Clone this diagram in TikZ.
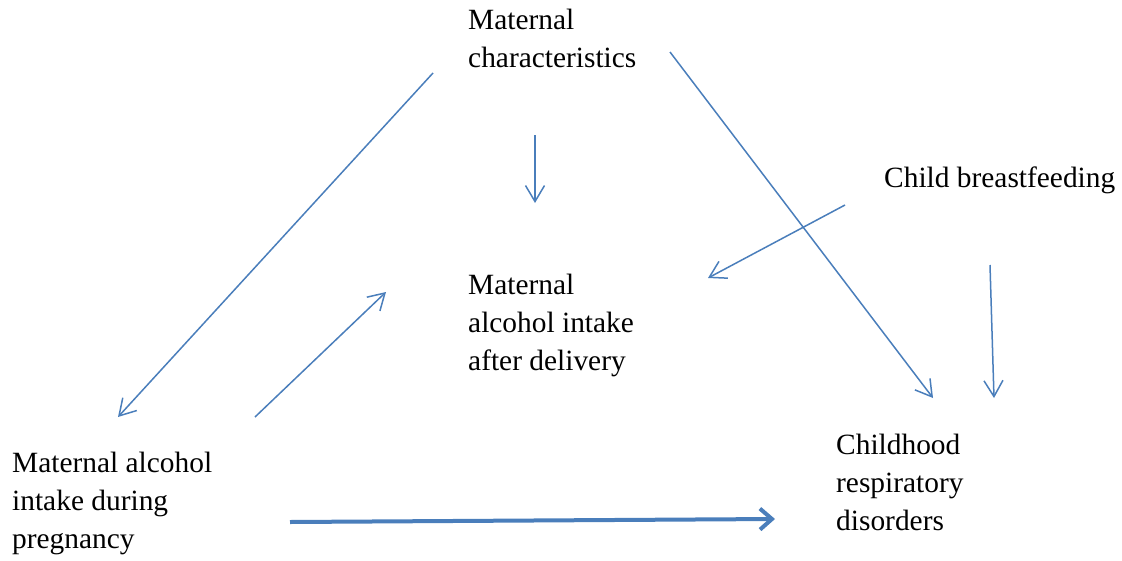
\documentclass[tikz,border=0pt]{standalone}
\usepackage{fontspec}
\setmainfont{Liberation Serif}
\usetikzlibrary{arrows.meta}
\definecolor{arrowblue}{HTML}{4A7EBB}
\tikzset{
  label/.style={anchor=north west, inner sep=0pt, align=left, font=\fontsize{29.4}{38}\selectfont},
  thinarrow/.style={draw=arrowblue, line width=1.5pt, -{Straight Barb[length=16pt,width=19pt,line width=1.5pt]}},
  thickarrow/.style={draw=arrowblue, line width=4pt, -{Straight Barb[length=12pt,width=21pt,line width=4pt]}},
}
\begin{document}
\begin{tikzpicture}[x=1pt,y=-1pt]
\useasboundingbox (0,0) rectangle (1122,560);
\node[label] (mc) at (468,9) {Maternal\\characteristics};
\node[label] (cb) at (884,167) {Child breastfeeding};
\node[label] (ad) at (468,274) {Maternal\\alcohol intake\\after delivery};
\node[label] (dp) at (12,452) {Maternal alcohol\\intake during\\pregnancy};
\node[label] (cr) at (836,434) {Childhood\\respiratory\\disorders};
\coordinate (a1s) at (433,73);  \coordinate (a1e) at (118,417);
\coordinate (a2s) at (535,135); \coordinate (a2e) at (535,203);
\coordinate (a3s) at (670,52);  \coordinate (a3e) at (933,398);
\coordinate (a4s) at (845,205); \coordinate (a4e) at (708,278);
\coordinate (a5s) at (990,265); \coordinate (a5e) at (994,398);
\coordinate (a6s) at (255,417); \coordinate (a6e) at (386,292);
\coordinate (a7s) at (290,522); \coordinate (a7e) at (775,519);
\draw[thinarrow] (a1s) -- (a1e);
\draw[thinarrow] (a2s) -- (a2e);
\draw[thinarrow] (a3s) -- (a3e);
\draw[thinarrow] (a4s) -- (a4e);
\draw[thinarrow] (a5s) -- (a5e);
\draw[thinarrow] (a6s) -- (a6e);
\draw[thickarrow] (a7s) -- (a7e);
\end{tikzpicture}
\end{document}
